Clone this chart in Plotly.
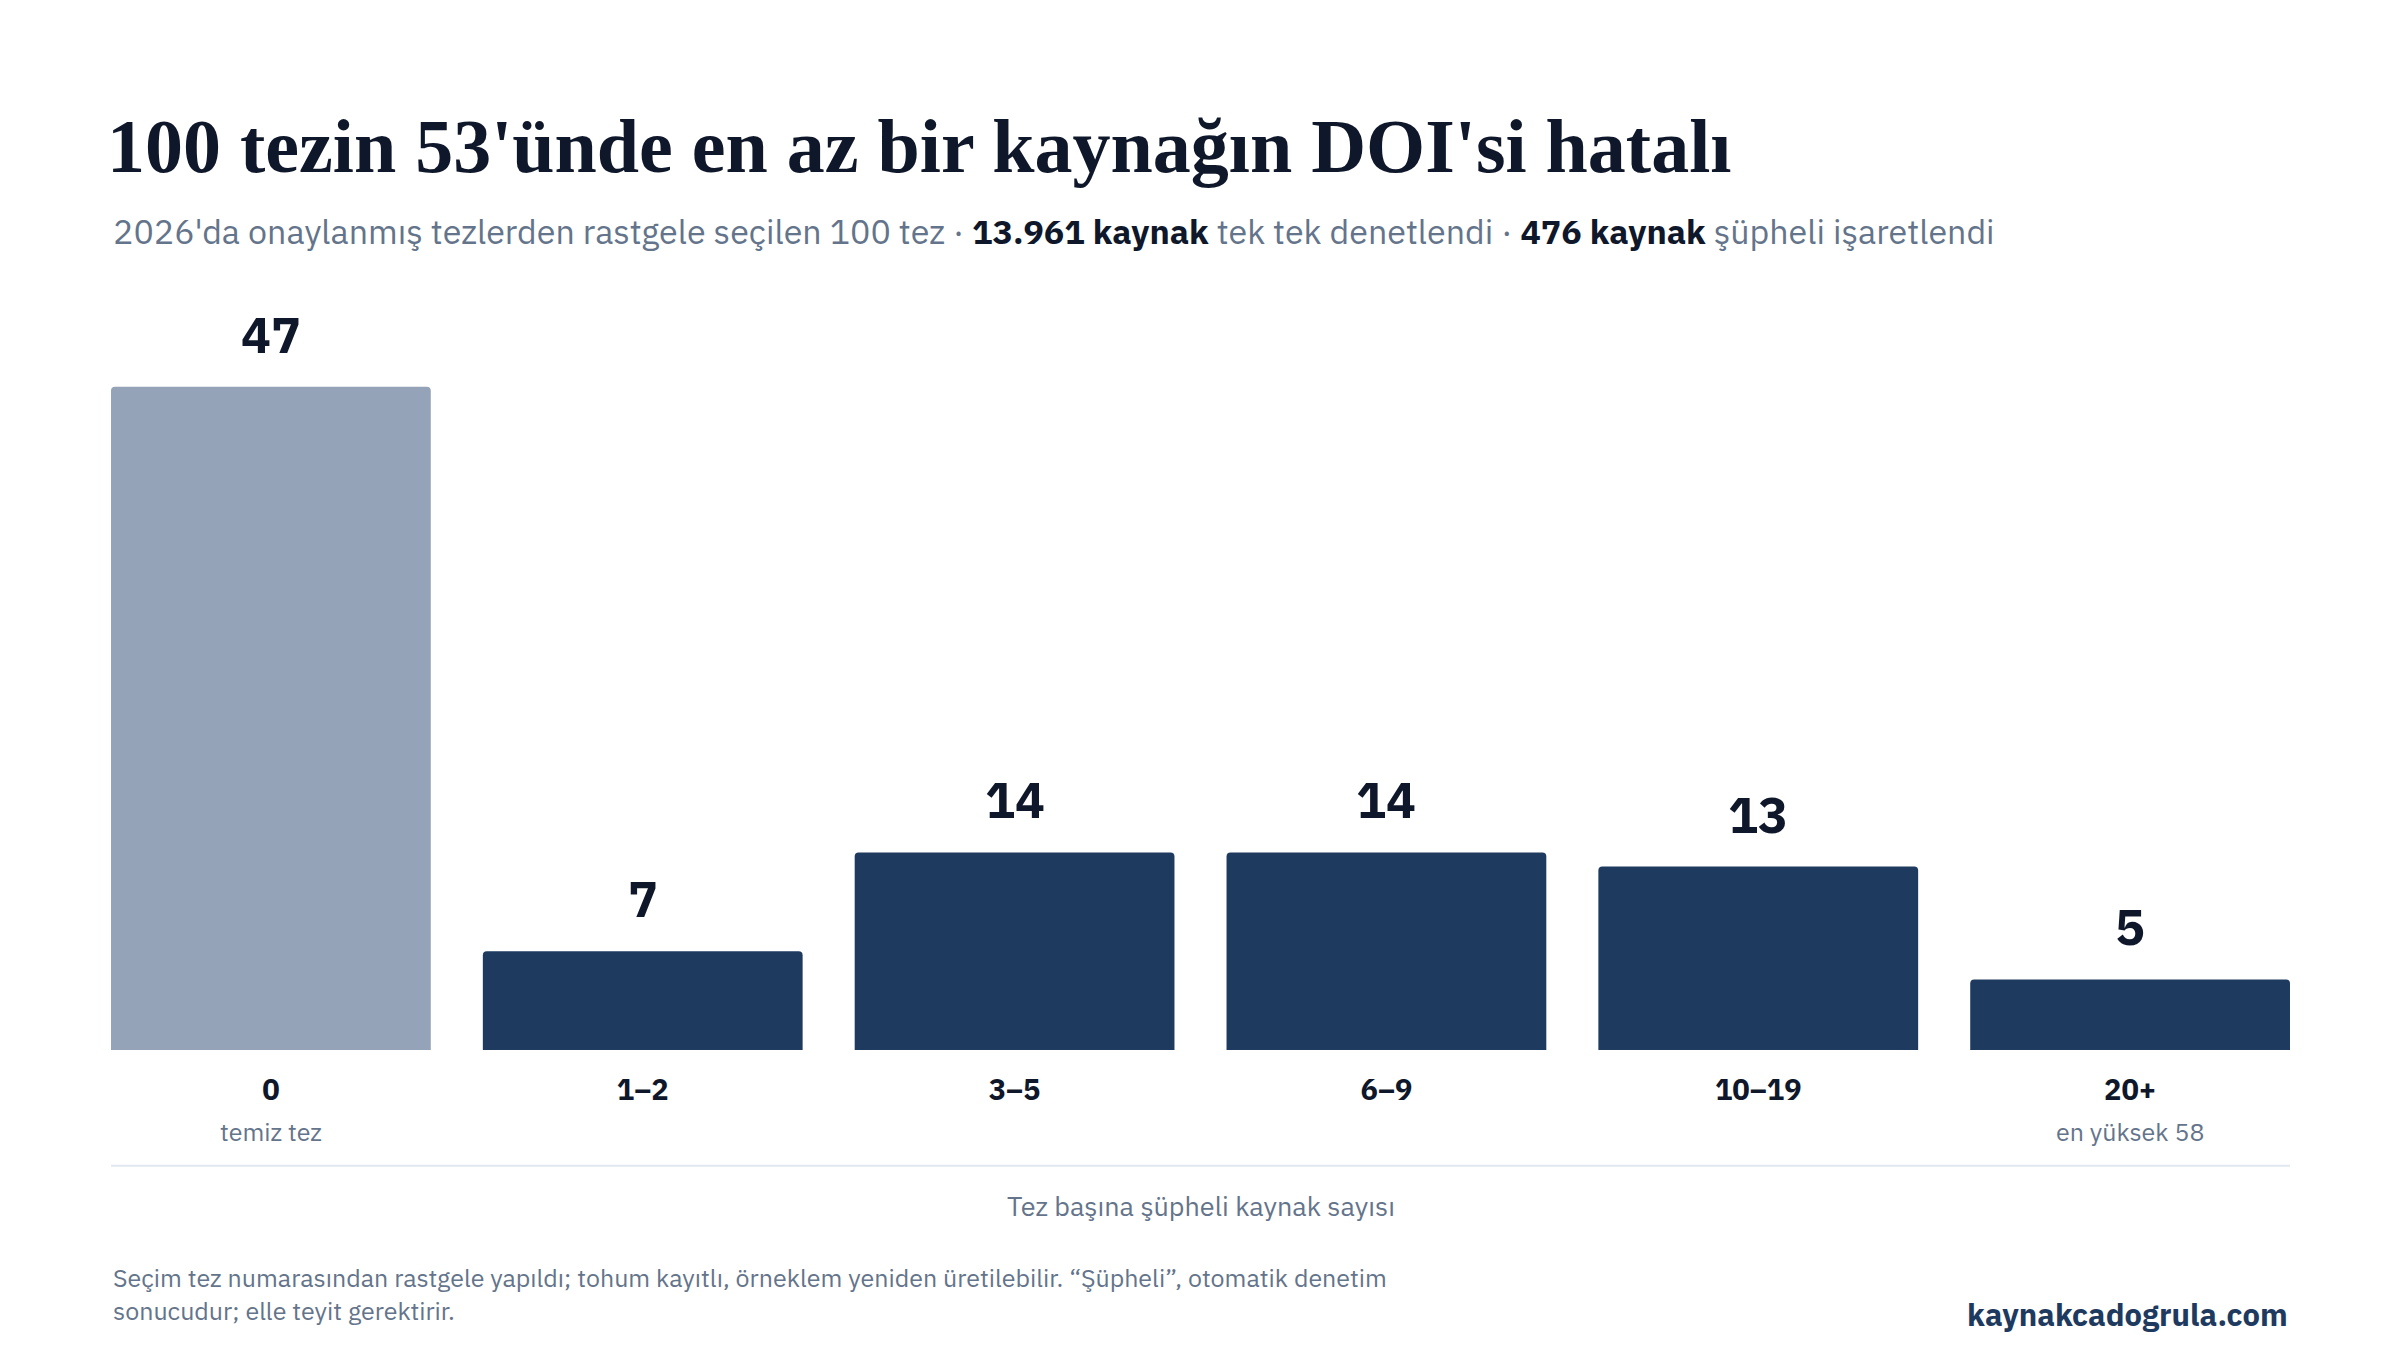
import plotly.graph_objects as go

# Veriler
categories = ["0", "1–2", "3–5", "6–9", "10–19", "20+"]
counts = [47, 7, 14, 14, 13, 5]
sublabels = ["temiz tez", "", "", "", "", "en yüksek 58"]
bar_colors = ["#94a3b8", "#1e3a5f", "#1e3a5f", "#1e3a5f", "#1e3a5f", "#1e3a5f"]

SANS = "IBM Plex Sans, Noto Sans, sans-serif"
SERIF = "Liberation Serif, DejaVu Serif, serif"
DARK = "#0f172a"
GREY = "#64748b"

T, B = 318, 308
PH = 1350 - T - B


def py(px_from_top):
    # piksel konumunu paper koordinatına çevir
    return (1350 - B - px_from_top) / PH


fig = go.Figure(go.Bar(
    x=categories, y=counts,
    marker=dict(color=bar_colors, line=dict(width=0), cornerradius=4),
    hoverinfo="skip",
))

fig.update_layout(
    width=2400, height=1350,
    paper_bgcolor="white", plot_bgcolor="white",
    margin=dict(l=103, r=118, t=T, b=B),
    bargap=0.14, showlegend=False,
    font=dict(family=SANS, color=GREY),
)
fig.update_yaxes(visible=False, range=[0, 51.3])
fig.update_xaxes(
    tickvals=categories, ticktext=[f"<b>{c}</b>" for c in categories],
    tickfont=dict(family=SANS, size=29, color=DARK),
    ticks="", showline=False, showgrid=False, ticklabelstandoff=20,
    range=[-0.43, 5.43],
)

# Değer etiketleri
for c, v in zip(categories, counts):
    fig.add_annotation(x=c, y=v, text=f"<b>{v}</b>", showarrow=False,
                       yanchor="bottom", yshift=18,
                       font=dict(family=SANS, size=50, color=DARK))

# Alt etiketler
for c, s in zip(categories, sublabels):
    if s:
        fig.add_annotation(x=c, y=-0.113, xref="x", yref="paper", text=s,
                           showarrow=False, font=dict(size=25, color=GREY), yanchor="middle")

# Ayırıcı çizgi
fig.add_shape(type="line", xref="paper", yref="paper", x0=0, x1=1, y0=-0.16, y1=-0.16,
              line=dict(color="#e2e8f0", width=2))

ann = [
    dict(x=0, y=py(138), text="<b>100 tezin 53'ünde en az bir kaynağın DOI'si hatalı</b>",
         font=dict(family=SERIF, size=76, color=DARK), xanchor="left", xshift=-6),
    dict(x=0, y=py(223), text=("2026'da onaylanmış tezlerden rastgele seçilen 100 tez · "
                               "<b style='color:#0f172a'>13.961 kaynak</b> tek tek denetlendi · "
                               "<b style='color:#0f172a'>476 kaynak</b> şüpheli işaretlendi"),
         font=dict(size=34, color=GREY), xanchor="left"),
    dict(x=0.5, y=-0.215, text="Tez başına şüpheli kaynak sayısı",
         font=dict(size=27, color=GREY), xanchor="center"),
    dict(x=0, y=-0.337, text=("Seçim tez numarasından rastgele yapıldı; tohum kayıtlı, örneklem yeniden üretilebilir. "
                              "“Şüpheli”, otomatik denetim<br>sonucudur; elle teyit gerektirir."),
         font=dict(size=25, color=GREY), xanchor="left", align="left"),
    dict(x=1, y=-0.366, text="<b>kaynakcadogrula.com</b>",
         font=dict(size=31, color="#1e3a5f"), xanchor="right"),
]
for a in ann:
    fig.add_annotation(xref="paper", yref="paper", showarrow=False, yanchor="middle", **a)

fig.write_html("out.html")
